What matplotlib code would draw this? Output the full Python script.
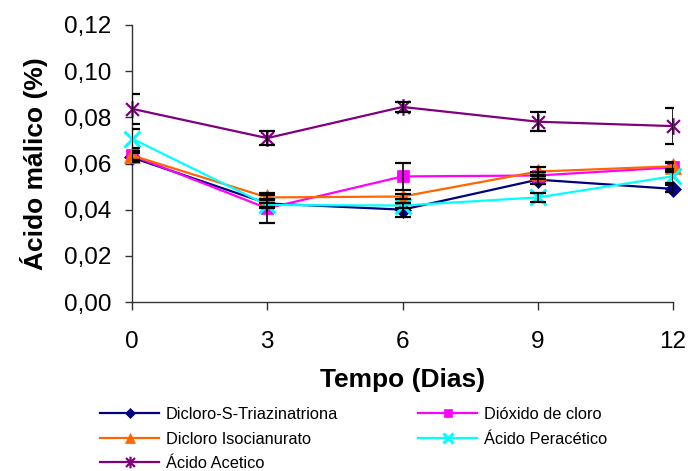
import matplotlib
matplotlib.use("Agg")
import matplotlib.pyplot as plt
from matplotlib.path import Path
from matplotlib.ticker import FuncFormatter

plt.rcParams['font.family'] = ['Liberation Sans', 'DejaVu Sans']

dias = [0, 3, 6, 9, 12]

dicloro_s = [0.0626, 0.0427, 0.0400, 0.0530, 0.0490]
dioxido = [0.0635, 0.0406, 0.0544, 0.0548, 0.0583]
dicloro_iso = [0.0635, 0.0453, 0.0457, 0.0565, 0.0588]
peracetico = [0.0708, 0.0420, 0.0418, 0.0453, 0.0545]
acetico = [0.0837, 0.0710, 0.0845, 0.0781, 0.0762]

err_dicloro_s = [0.0020, 0.0020, 0.0030, 0.0020, 0.0015]
err_dioxido = [0.0020, 0.0065, 0.0060, 0.0015, 0.0020]
err_dicloro_iso = [0.0020, 0.0010, 0.0010, 0.0020, 0.0020]
err_peracetico = [0.0040, 0.0010, 0.0010, 0.0020, 0.0030]
err_acetico = [0.0065, 0.0030, 0.0020, 0.0040, 0.0078]

nomes = ["Dicloro-S-Triazinatriona", "Dióxido de cloro", "Dicloro Isocianurato",
         "Ácido Peracético", "Ácido Acetico"]

# star marker: an "x" crossed by a vertical bar
star = Path([(-1, -1), (1, 1), (-1, 1), (1, -1), (0, -1.3), (0, 1.3)],
            [Path.MOVETO, Path.LINETO, Path.MOVETO, Path.LINETO, Path.MOVETO, Path.LINETO])

series = [
    (dicloro_s, err_dicloro_s, nomes[0], '#000080', 'D', 8, None),
    (dioxido, err_dioxido, nomes[1], '#FF00FF', 's', 9, None),
    (dicloro_iso, err_dicloro_iso, nomes[2], '#FF6600', '^', 11, None),
    (peracetico, err_peracetico, nomes[3], '#00FFFF', 'x', 11, 2.2),
    (acetico, err_acetico, nomes[4], '#800080', star, 12, 1.6),
]

fig = plt.figure(figsize=(6.88, 4.71), dpi=100)
ax = fig.add_axes([132 / 688, 1 - 302 / 471, 541 / 688, 277 / 471])

handles = {}
for vals, errs, nome, cor, mk, ms, mew in series:
    ax.errorbar(dias, vals, yerr=errs, fmt='none', ecolor='black',
                elinewidth=1.2, capsize=6, capthick=1.6, zorder=4)
    kw = dict(markeredgewidth=mew) if mew else dict(markeredgewidth=0.5)
    h, = ax.plot(dias, vals, color=cor, linewidth=1.6, marker=mk,
                 markersize=ms, markerfacecolor=cor, markeredgecolor=cor,
                 label=nome, zorder=3, clip_on=False, **kw)
    handles[nome] = h

ax.set_xlim(0, 12)
ax.set_ylim(0, 0.12)
ax.set_xticks(dias)
ax.set_yticks([0, 0.02, 0.04, 0.06, 0.08, 0.10, 0.12])
ax.yaxis.set_major_formatter(FuncFormatter(lambda v, p: f"{v:.2f}".replace('.', ',')))

for s in ['top', 'right']:
    ax.spines[s].set_visible(False)
for s in ['left', 'bottom']:
    ax.spines[s].set_linewidth(1.0)
    ax.spines[s].set_color('#333333')

ax.tick_params(axis='y', direction='out', length=5, width=1, pad=10, labelsize=17.5, color='#333333')
ax.tick_params(axis='x', direction='out', length=6, width=1, pad=15, labelsize=17.5, color='#333333')

ax.set_xlabel("Tempo (Dias)", fontsize=19, fontweight='bold', labelpad=11)
ax.set_ylabel("Ácido málico (%)", fontsize=19, fontweight='bold', labelpad=11)

ordem = [nomes[0], nomes[2], nomes[4], nomes[1], nomes[3]]
leg = fig.legend([handles[n] for n in ordem], ordem, ncol=2, frameon=False,
                 loc='upper left', bbox_to_anchor=(100 / 688, 1 - 407 / 471),
                 fontsize=11.8, handlelength=3.6, handletextpad=0.4,
                 columnspacing=4.9, labelspacing=0.58, borderpad=0, borderaxespad=0)
for h in leg.legend_handles:
    h.set_markersize(h.get_markersize() * 0.7)

fig.savefig("out.png", dpi=100)
